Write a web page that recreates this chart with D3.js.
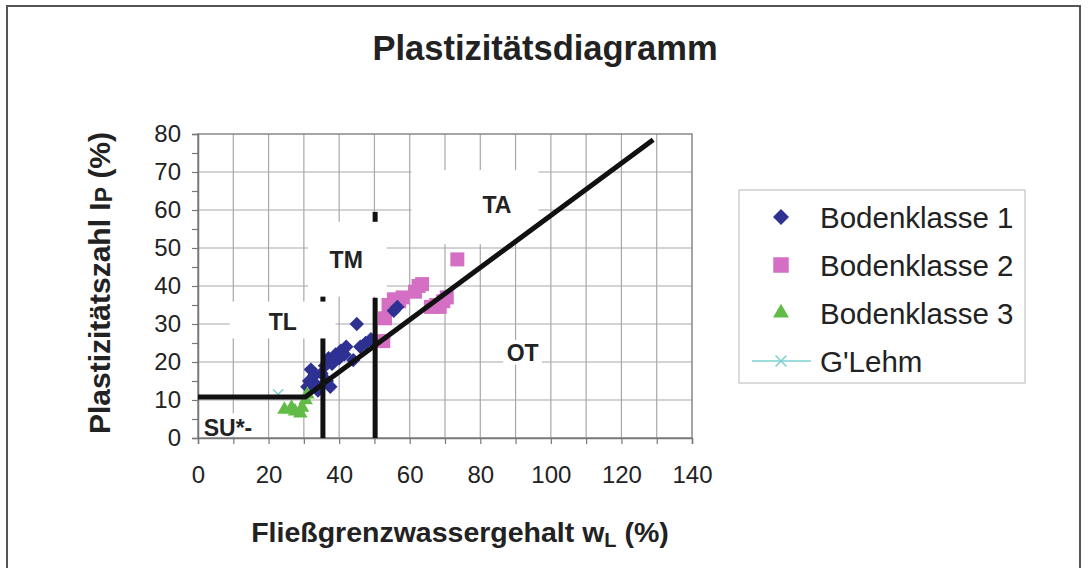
<!DOCTYPE html>
<html>
<head>
<meta charset="utf-8">
<title>Plastizitätsdiagramm</title>
<script src="https://cdn.jsdelivr.net/npm/d3@7/dist/d3.min.js"></script>
<style>
  body { margin: 0; background: #fff; }
  text { font-family: "Liberation Sans", Arial, sans-serif; fill: #222; }
</style>
</head>
<body>
<script>

// Bodenklasse 1 (blue diamonds): [wL, Ip]
var bk1 = [[31,13.5],[31.5,15],[32,18],[33,16.5],[33.5,14],[34,12.5],[35,17],[36,19],
           [36.5,15],[37,21],[37.5,13.5],[38,19.5],[39,22],[40,21],[40.5,23],[41.5,22],
           [42,24],[44,20.5],[45,30],[46,24],[47.5,25],[49,26],[55.5,33.5],[56.5,34.5]];
// Bodenklasse 2 (pink squares)
var bk2 = [[52.5,25.5],[53,31.5],[54,35],[55.5,36.5],[57,36],[58,37],[61.5,38.5],[62.5,40],
           [63.5,40.5],[66,34.5],[67.5,35],[68.5,34.5],[69.5,36],[70.5,37],[73.5,47]];
// Bodenklasse 3 (green triangles)
var bk3 = [[24.5,7.5],[26.5,8],[27.5,7],[29,6.5],[29.5,8],[30.5,10],[31,11.5]];
// G'Lehm
var glehm = [[22.7,11.5]];

// A-line and class boundaries (visible parts)
var aLine = [[0,10.8],[30.4,10.8],[129,78.5]];
var classLines = [
  [[35.4,0],[35.4,26.2]], [[35.4,35.9],[35.4,37.2]],
  [[50.2,0],[50.2,36.9]], [[50.2,56.9],[50.2,59.5]]
];

// field labels with their white backgrounds [x0, x1, y0, y1]
var fieldLabels = ["TL", "TM", "TA", "OT", "SU*-"];
var fieldPos = [[24,30.6],[42,46.8],[84.7,61.3],[92,22.5],[8.5,2.8]];
var fieldBox = [[9,39,26.2,35.9],[31.2,53.5,37.2,56.9],[60.5,96.5,51,70.5],[86.5,97.5,19.3,25.8],[2,16,0.4,6.5]];

var seriesNames = ["Bodenklasse 1", "Bodenklasse 2", "Bodenklasse 3", "G'Lehm"];
var seriesColors = ["#2e3192", "#d46fc4", "#62bb46", "#7fd0d0"];

var width = 1089, height = 568;

var svg = d3.select("body").append("svg")
    .attr("width", width)
    .attr("height", height);

// outer frame
svg.append("rect")
    .attr("x", 7).attr("y", 6)
    .attr("width", 1073).attr("height", 600)
    .attr("fill", "none")
    .attr("stroke", "#555")
    .attr("stroke-width", 2);

var x = d3.scaleLinear().domain([0, 140]).range([198, 692]);
var y = d3.scaleLinear().domain([0, 80]).range([438, 134]);

// grid
var grid = svg.append("g");
grid.selectAll(".vg")
    .data(d3.range(10, 140, 10))
    .enter().append("line")
    .attr("x1", function(d) { return x(d); })
    .attr("x2", function(d) { return x(d); })
    .attr("y1", y(0)).attr("y2", y(80))
    .attr("stroke", "#a8a8a8").attr("stroke-width", 1.2);
grid.selectAll(".hg")
    .data(d3.range(10, 80, 10))
    .enter().append("line")
    .attr("y1", function(d) { return y(d); })
    .attr("y2", function(d) { return y(d); })
    .attr("x1", x(0)).attr("x2", x(140))
    .attr("stroke", "#a8a8a8").attr("stroke-width", 1.2);

svg.append("rect")
    .attr("x", x(0)).attr("y", y(80))
    .attr("width", x(140) - x(0)).attr("height", y(0) - y(80))
    .attr("fill", "none")
    .attr("stroke", "#888").attr("stroke-width", 1.5);

// axes
var yAxis = svg.append("g")
    .attr("transform", "translate(" + x(0) + ",0)")
    .call(d3.axisLeft(y)
        .tickValues(d3.range(0, 81, 5))
        .tickFormat(function(d) { return d % 10 === 0 ? d : ""; })
        .tickSize(6).tickPadding(11));
var xAxis = svg.append("g")
    .attr("transform", "translate(0," + y(0) + ")")
    .call(d3.axisBottom(x)
        .tickValues(d3.range(0, 141, 10))
        .tickFormat(function(d) { return d % 20 === 0 ? d : ""; })
        .tickSize(6).tickPadding(22));
[xAxis, yAxis].forEach(function(a) {
  a.select(".domain").attr("stroke", "#777").attr("stroke-width", 1.5);
  a.selectAll(".tick line").attr("stroke", "#777").attr("stroke-width", 1.2);
  a.selectAll(".tick text")
      .style("font-family", '"Liberation Sans", Arial, sans-serif')
      .style("font-size", "24px")
      .attr("fill", "#222");
});

// white label boxes
svg.append("g").selectAll("rect")
    .data(fieldBox)
    .enter().append("rect")
    .attr("x", function(d) { return x(d[0]); })
    .attr("y", function(d) { return y(d[3]); })
    .attr("width", function(d) { return x(d[1]) - x(d[0]); })
    .attr("height", function(d) { return y(d[2]) - y(d[3]); })
    .attr("fill", "#fff");

// markers
function symbolPath(type, size) {
  return d3.symbol().type(type).size(size)();
}
var marks = svg.append("g");
marks.selectAll(".b2").data(bk2).enter().append("path")
    .attr("d", symbolPath(d3.symbolSquare, 196))
    .attr("transform", function(d) { return "translate(" + x(d[0]) + "," + y(d[1]) + ")"; })
    .attr("fill", seriesColors[1]);
marks.selectAll(".b1").data(bk1).enter().append("path")
    .attr("d", symbolPath(d3.symbolSquare, 104))
    .attr("transform", function(d) { return "translate(" + x(d[0]) + "," + y(d[1]) + ") rotate(45)"; })
    .attr("fill", seriesColors[0]);
marks.selectAll(".b3").data(bk3).enter().append("path")
    .attr("d", symbolPath(d3.symbolTriangle, 90))
    .attr("transform", function(d) { return "translate(" + x(d[0]) + "," + y(d[1]) + ")"; })
    .attr("fill", seriesColors[2]);
marks.selectAll(".gl").data(glehm).enter().append("path")
    .attr("d", symbolPath(d3.symbolTimes, 70))
    .attr("transform", function(d) { return "translate(" + x(d[0]) + "," + y(d[1]) + ")"; })
    .attr("fill", "none")
    .attr("stroke", seriesColors[3]).attr("stroke-width", 1.5);

// thick boundary lines
var line = d3.line()
    .x(function(d) { return x(d[0]); })
    .y(function(d) { return y(d[1]); });
svg.append("g").selectAll("path")
    .data(classLines.concat([aLine]))
    .enter().append("path")
    .attr("d", line)
    .attr("fill", "none")
    .attr("stroke", "#111")
    .attr("stroke-width", 5)
    .attr("stroke-linejoin", "miter");

// field labels
svg.append("g").selectAll("text")
    .data(fieldLabels)
    .enter().append("text")
    .attr("x", function(d, i) { return x(fieldPos[i][0]); })
    .attr("y", function(d, i) { return y(fieldPos[i][1]); })
    .attr("dy", "0.36em")
    .attr("text-anchor", "middle")
    .style("font-size", "23px")
    .style("font-weight", "bold")
    .text(function(d) { return d; });

// title
svg.append("text")
    .attr("x", 545).attr("y", 60)
    .attr("text-anchor", "middle")
    .style("font-size", "34.5px")
    .style("font-weight", "bold")
    .text("Plastizitätsdiagramm");

// axis titles
var yt = svg.append("text")
    .attr("transform", "translate(110,283) rotate(-90)")
    .attr("text-anchor", "middle")
    .style("font-size", "30px")
    .style("font-weight", "bold");
yt.append("tspan").text("Plastizitätszahl I");
yt.append("tspan").style("font-size", "23px").attr("dy", 2).text("P");
yt.append("tspan").attr("dy", -2).text(" (%)");

var xt = svg.append("text")
    .attr("x", 460).attr("y", 542)
    .attr("text-anchor", "middle")
    .style("font-size", "28.5px")
    .style("font-weight", "bold");
xt.append("tspan").text("Fließgrenzwassergehalt w");
xt.append("tspan").style("font-size", "20px").attr("dy", 5).text("L");
xt.append("tspan").attr("dy", -5).text(" (%)");

// legend
var legend = svg.append("g");
legend.append("rect")
    .attr("x", 739).attr("y", 190)
    .attr("width", 286).attr("height", 193)
    .attr("fill", "#fff")
    .attr("stroke", "#c4c4c4").attr("stroke-width", 1.2);

var legendSymbols = [
  [d3.symbolSquare, 128, 45],
  [d3.symbolSquare, 240, 0],
  [d3.symbolTriangle, 110, 0],
  [d3.symbolTimes, 80, 0]
];
var rows = legend.selectAll(".row")
    .data(seriesNames)
    .enter().append("g")
    .attr("transform", function(d, i) { return "translate(781," + (217 + i * 48) + ")"; });
rows.filter(function(d, i) { return i === 3; })
    .append("line")
    .attr("x1", -29).attr("x2", 30)
    .attr("stroke", seriesColors[3]).attr("stroke-width", 1.5);
rows.append("path")
    .attr("d", function(d, i) { return symbolPath(legendSymbols[i][0], legendSymbols[i][1]); })
    .attr("transform", function(d, i) { return "rotate(" + legendSymbols[i][2] + ")"; })
    .attr("fill", function(d, i) { return i === 3 ? "none" : seriesColors[i]; })
    .attr("stroke", function(d, i) { return i === 3 ? seriesColors[3] : "none"; })
    .attr("stroke-width", 1.5);
rows.append("text")
    .attr("x", 39)
    .attr("dy", "0.36em")
    .style("font-size", "29.5px")
    .text(function(d) { return d; });

</script>
</body>
</html>
